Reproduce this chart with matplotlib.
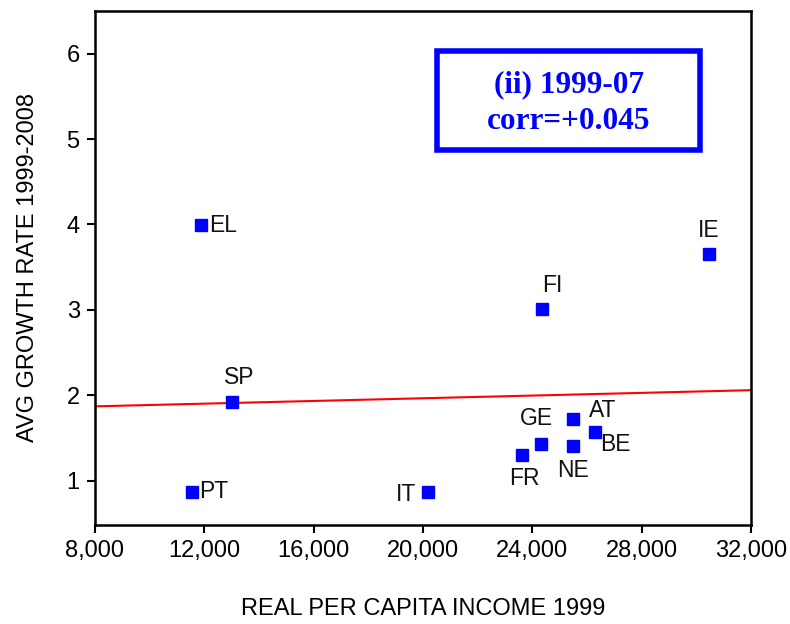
import matplotlib
matplotlib.use('Agg')
import matplotlib.pyplot as plt
from matplotlib.patches import Rectangle
import numpy as np

plt.rcParams['font.family'] = ['Liberation Sans', 'DejaVu Sans']

# country codes and values
countries = ['EL', 'SP', 'PT', 'IT', 'FR', 'GE', 'NE', 'AT', 'BE', 'FI', 'IE']
income_1999 = [11880, 13020, 11560, 20170, 23640, 24330, 25490, 25490, 26310, 24370, 30470]
growth_rate = [3.99, 1.92, 0.87, 0.87, 1.30, 1.43, 1.41, 1.72, 1.57, 3.01, 3.65]
x_ticks = [8000, 12000, 16000, 20000, 24000, 28000, 32000]
y_ticks = [1, 2, 3, 4, 5, 6]

# label offsets in pixels (dx, dy, ha, va)
offsets = {
    'EL': (8, 0, 'left', 'center'),
    'SP': (7, 25, 'center', 'center'),
    'PT': (7, 0, 'left', 'center'),
    'IT': (-12, -3, 'right', 'center'),
    'FR': (2, -24, 'center', 'center'),
    'GE': (-5, 25, 'center', 'center'),
    'NE': (0, -25, 'center', 'center'),
    'AT': (30, 9, 'center', 'center'),
    'BE': (20, -13, 'center', 'center'),
    'FI': (10, 23, 'center', 'center'),
    'IE': (0, 24, 'center', 'center'),
}

fig = plt.figure(figsize=(7.9, 6.24), dpi=100)
ax = fig.add_axes([95 / 790, 1 - 525 / 624, 656 / 790, 514 / 624])

# regression line over the full axis
slope, intercept = np.polyfit(income_1999, growth_rate, 1)
xx = np.array([8000, 32000])
ax.plot(xx, intercept + slope * xx, color='red', lw=1.5, zorder=2)

ax.plot(income_1999, growth_rate, 's', color='#0000ff', ms=8, mec='#0000ff', zorder=3)

for c, x, y in zip(countries, income_1999, growth_rate):
    dx, dy, ha, va = offsets[c]
    ax.annotate(c, (x, y), xytext=(dx, dy), textcoords='offset pixels',
                ha=ha, va=va, fontsize=16.5, color='#111111')

ax.set_xlim(8000, 32000)
ax.set_ylim(0.48, 6.5)
ax.set_xticks(x_ticks)
ax.set_xticklabels([f'{v:,}' for v in x_ticks])
ax.set_yticks(y_ticks)
ax.tick_params(direction='out', length=6, width=1.5, labelsize=17, pad=5,
               top=False, right=False)
for s in ax.spines.values():
    s.set_linewidth(1.8)

ax.set_xlabel('REAL PER CAPITA INCOME 1999', fontsize=17, labelpad=26)
ax.set_ylabel('AVG GROWTH RATE 1999-2008', fontsize=17, labelpad=20)

# annotation box
ax.add_patch(Rectangle((0.522, 0.730), 0.400, 0.192, transform=ax.transAxes,
                       fill=False, edgecolor='#0000ff', lw=4, zorder=4))
ax.text(0.722, 0.856, '(ii) 1999-07', transform=ax.transAxes, ha='center', va='center',
        fontsize=22.5, fontweight='bold', color='#0000ff', family='Liberation Serif')
ax.text(0.722, 0.785, 'corr=+0.045', transform=ax.transAxes, ha='center', va='center',
        fontsize=22.5, fontweight='bold', color='#0000ff', family='Liberation Serif')

fig.savefig('out.png', dpi=100)
